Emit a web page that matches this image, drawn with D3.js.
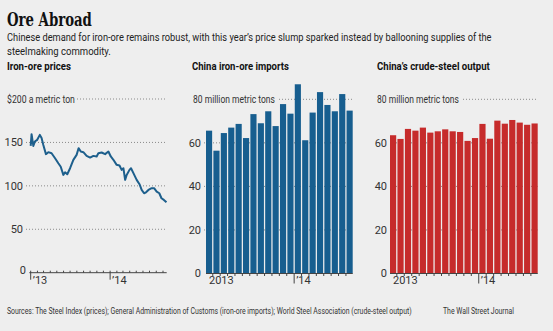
<!DOCTYPE html>
<html>
<head>
<meta charset="utf-8">
<script src="https://cdn.jsdelivr.net/npm/d3@7"></script>
<style>
  body { margin: 0; background: #eeeeee; }
  svg { display: block; font-family: "Liberation Sans Narrow", "Roboto", sans-serif; }
  .grid { stroke: #8a8a8a; stroke-width: 1; stroke-dasharray: 1 2; }
  .axis { stroke: #444; stroke-width: 1; }
  .tick-lbl { font-size: 11px; fill: #333; }
</style>
</head>
<body>
<script>
// monthly categories, Jan 2013 - Aug 2014
var months = ["2013-01","2013-02","2013-03","2013-04","2013-05","2013-06","2013-07","2013-08",
  "2013-09","2013-10","2013-11","2013-12","2014-01","2014-02","2014-03","2014-04",
  "2014-05","2014-06","2014-07","2014-08"];

// China iron-ore imports, million metric tons
var importVals = [65.6, 56.4, 64.5, 67.0, 68.7, 62.2, 73.2, 69.0, 74.5, 67.7,
  77.8, 73.4, 86.9, 61.2, 73.9, 83.3, 77.4, 74.5, 82.4, 74.8];

// China crude-steel output, million metric tons
var steelVals = [63.5, 61.8, 66.4, 65.6, 67.0, 64.7, 65.3, 66.2, 65.3, 65.0,
  60.9, 62.2, 68.7, 61.9, 70.2, 68.8, 70.5, 69.3, 68.3, 68.9];

// iron-ore price, $ a metric ton
var priceDates = ["2013-01-01","2013-01-05","2013-01-13","2013-01-20","2013-01-31","2013-02-12",
  "2013-02-20","2013-02-28","2013-03-12","2013-03-23","2013-04-07","2013-04-23","2013-05-08",
  "2013-05-19","2013-05-31","2013-06-08","2013-06-18","2013-07-01","2013-07-16","2013-07-31",
  "2013-08-09","2013-08-19","2013-08-31","2013-09-15","2013-10-01","2013-10-16","2013-10-31",
  "2013-11-08","2013-11-23","2013-12-09","2013-12-24","2014-01-04","2014-01-16","2014-01-31",
  "2014-02-13","2014-02-23","2014-03-03","2014-03-11","2014-03-18","2014-03-31","2014-04-07",
  "2014-04-18","2014-05-03","2014-05-16","2014-05-26","2014-06-06","2014-06-15","2014-06-26",
  "2014-07-11","2014-07-22","2014-08-03","2014-08-15","2014-08-25","2014-09-05","2014-09-17"];
var priceVals = [146, 159.5, 146, 151, 153, 158.7, 155, 147, 136.5, 138.8, 137.6, 131.8, 126,
  122, 112.6, 115.7, 113.4, 120.3, 129.9, 135.7, 143.4, 139.5, 138.8, 134.5, 132.6, 134.5, 133.8,
  137.6, 138.4, 136.5, 139.5, 133.8, 130, 124.2, 123.4, 118.4, 120.3, 106.9, 112.6, 118.4, 120.3,
  114.6, 106.9, 101.9, 95.3, 91.5, 92.6, 95.3, 97.3, 97.3, 93.4, 91.5, 85.7, 83.8, 81.1];

var priceTicks = [0, 50, 100, 150, 200];
var barTicks = [0, 20, 40, 60, 80];

var W = 553, H = 331;
var parse = d3.timeParse("%Y-%m-%d");

var svg = d3.select("body").append("svg")
  .attr("width", W)
  .attr("height", H);

svg.append("rect").attr("width", W).attr("height", H).attr("fill", "#eeeeee");

// text squeezed horizontally to a measured width (narrow-face look)
function styled(parent, x, y, w, str, size, weight, fill, family) {
  var t = parent.append("text").attr("x", 0).attr("y", 0)
    .style("font-size", size + "px")
    .style("font-weight", weight || "normal")
    .attr("fill", fill || "#222")
    .text(str);
  if (family) t.style("font-family", family);
  var k = w / t.node().getComputedTextLength();
  t.attr("transform", "translate(" + x + "," + y + ") scale(" + k + ",1)");
  return t;
}

// headline + chatter
styled(svg, 7, 26, 85, "Ore Abroad", 18, "bold", "#111", "'DejaVu Serif', serif");
styled(svg, 7, 41, 485, "Chinese demand for iron-ore remains robust, with this year\u2019s price slump sparked instead by ballooning supplies of the", 11.5);
styled(svg, 7, 54.5, 104, "steelmaking commodity.", 11.5);

// panel titles
var panelTitles = [
  { x: 7, w: 64, t: "Iron-ore prices" },
  { x: 192, w: 97, t: "China iron-ore imports" },
  { x: 377, w: 113, t: "China\u2019s crude-steel output" }
];
panelTitles.forEach(function(p) {
  styled(svg, p.x, 70, p.w, p.t, 11.5, "bold", "#111");
});

/* ---------- iron-ore price line ---------- */
var xLine = d3.scaleTime()
  .domain([parse("2013-01-01"), parse("2014-09-18")])
  .range([30.7, 166.7]);
var yLine = d3.scaleLinear().domain([0, 200]).range([272.7, 99]);

var lineG = svg.append("g");

priceTicks.forEach(function(v) {
  if (v === 0) return;
  var startX = v === 200 ? 77 : 26;
  lineG.append("line").attr("class", "grid")
    .attr("x1", startX).attr("x2", 166.7)
    .attr("y1", yLine(v)).attr("y2", yLine(v));
});

priceTicks.forEach(function(v) {
  if (v === 200) {
    styled(lineG, 7, yLine(v) + 4, 68, "$200 a metric ton", 11, "normal", "#333");
  } else {
    lineG.append("text").attr("class", "tick-lbl")
      .attr("x", v === 0 ? 26 : 23).attr("y", yLine(v) + (v === 0 ? 1 : 4))
      .attr("text-anchor", "end")
      .text(v);
  }
});

// time axis
lineG.append("line").attr("class", "axis")
  .attr("x1", 29.3).attr("x2", 166.7)
  .attr("y1", yLine(0)).attr("y2", yLine(0));

var tickMonths = d3.timeMonths(parse("2013-01-01"), parse("2014-09-18"));
tickMonths.forEach(function(m) {
  var major = m.getMonth() === 0;
  lineG.append("line").attr("class", "axis")
    .attr("x1", xLine(m)).attr("x2", xLine(m))
    .attr("y1", yLine(0) - 2)
    .attr("y2", major ? yLine(0) + 7 : yLine(0));
  if (major) {
    lineG.append("text").attr("class", "tick-lbl")
      .attr("x", xLine(m) + 2).attr("y", 284)
      .text("\u2019" + d3.timeFormat("%y")(m));
  }
});

var priceData = priceDates.map(function(d, i) { return { date: parse(d), value: priceVals[i] }; });

lineG.append("path")
  .datum(priceData)
  .attr("fill", "none")
  .attr("stroke", "#1d5f8c")
  .attr("stroke-width", 2)
  .attr("stroke-linejoin", "round")
  .attr("d", d3.line().x(function(d) { return xLine(d.date); }).y(function(d) { return yLine(d.value); }));

/* ---------- monthly bar panels ---------- */
function barPanel(values, x0, x1, labelX, numX, color) {
  var g = svg.append("g");
  var xBand = d3.scaleBand().domain(months).range([x0, x1]).paddingInner(0.17).paddingOuter(0);
  var y = d3.scaleLinear().domain([0, 80]).range([273.5, 99.3]);

  barTicks.forEach(function(v) {
    if (v === 0) return;
    g.append("line").attr("class", "grid")
      .attr("x1", v === 80 ? labelX + 86 : numX + 3).attr("x2", x1)
      .attr("y1", y(v)).attr("y2", y(v));
    if (v === 80) {
      styled(g, labelX, y(v) + 4, 82, "80 million metric tons", 11, "normal", "#333");
    } else {
      g.append("text").attr("class", "tick-lbl")
        .attr("x", numX).attr("y", y(v) + 4)
        .attr("text-anchor", "end")
        .text(v);
    }
  });
  g.append("text").attr("class", "tick-lbl")
    .attr("x", numX).attr("y", y(0) + 3)
    .attr("text-anchor", "end")
    .text(0);

  g.selectAll("rect.bar")
    .data(values)
    .enter().append("rect")
    .attr("class", "bar")
    .attr("x", function(d, i) { return xBand(months[i]); })
    .attr("width", xBand.bandwidth())
    .attr("y", function(d) { return y(d); })
    .attr("height", function(d) { return y(0) - y(d); })
    .attr("fill", color);

  g.append("line").attr("class", "axis")
    .attr("x1", x0).attr("x2", x1)
    .attr("y1", y(0)).attr("y2", y(0));

  // month ticks sit on the band edges
  var step = xBand.step();
  months.forEach(function(m, i) {
    if (i === 0) return;
    var tx = x0 + i * step - step * 0.085;
    var major = m.slice(5) === "01";
    g.append("line").attr("class", "axis")
      .attr("x1", tx).attr("x2", tx)
      .attr("y1", y(0)).attr("y2", y(0) + (major ? 10 : 2.5));
    if (major) {
      g.append("text").attr("class", "tick-lbl")
        .attr("x", tx + 2).attr("y", 284)
        .text("\u2019" + m.slice(2, 4));
    }
  });
  g.append("text").attr("class", "tick-lbl")
    .attr("x", x0 + 3).attr("y", 284)
    .text(months[0].slice(0, 4));
}

barPanel(importVals, 206, 352.7, 193, 201, "#175e8f");
barPanel(steelVals, 390, 537.7, 377, 387, "#c62b2b");

// credits
styled(svg, 7, 314, 405, "Sources: The Steel Index (prices); General Administration of Customs (iron-ore imports); World Steel Association (crude-steel output)", 9.5, "normal", "#333");
styled(svg, 443, 314, 71, "The Wall Street Journal", 9.5, "normal", "#333");
</script>
</body>
</html>
